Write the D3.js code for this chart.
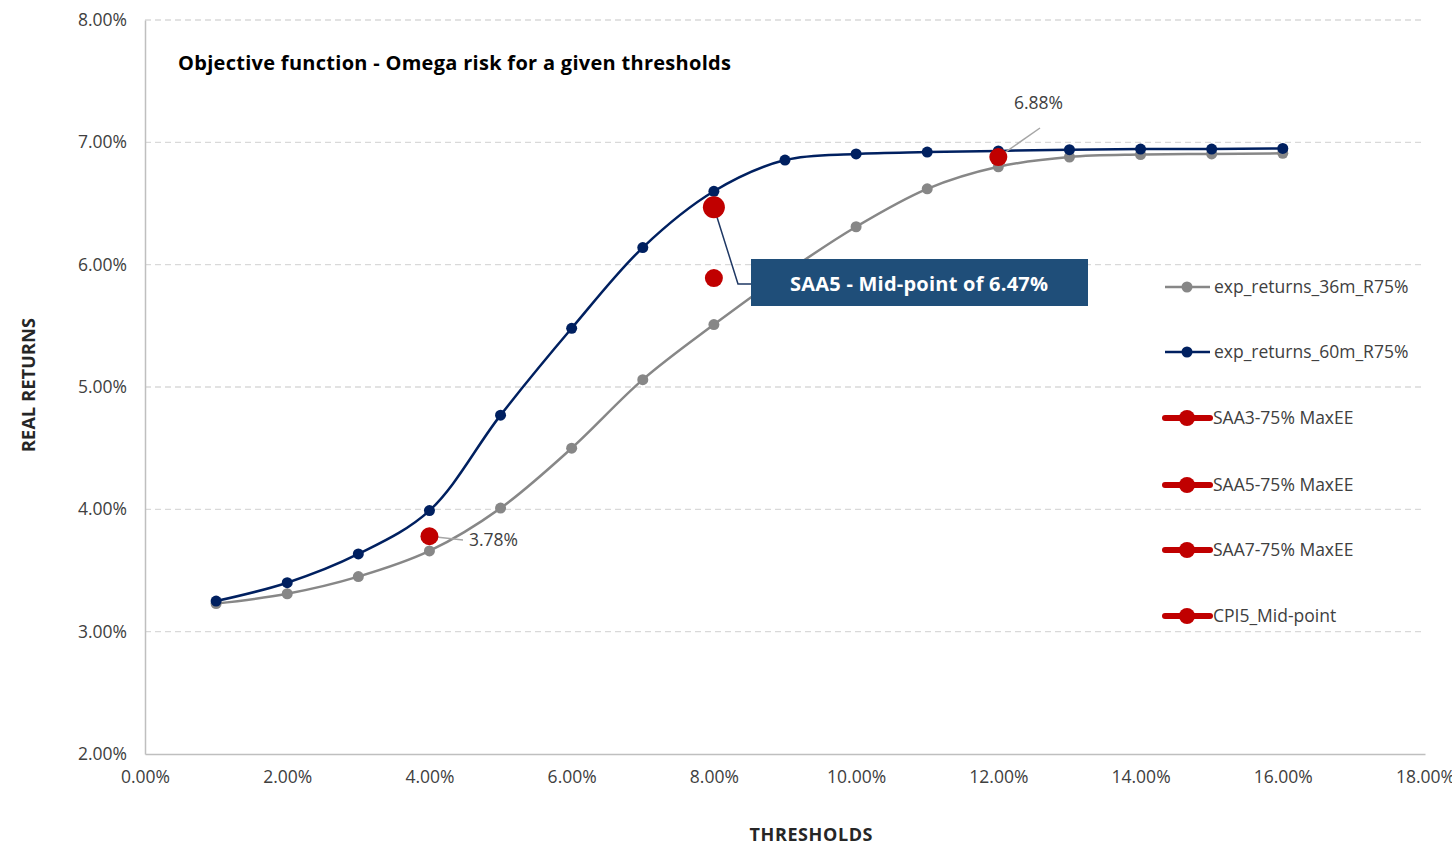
<!DOCTYPE html>
<html>
<head>
	<title>Omega risk chart</title>
	<script src="https://cdn.jsdelivr.net/npm/d3@7/dist/d3.min.js"></script>
	<style>
		body { margin: 0; background: #fff; }
		text { font-family: "Open Sans", "Noto Sans", sans-serif; }
	</style>
</head>
<body>
	<svg id="chart" width="1452" height="846"></svg>

	<script type="text/javascript">
		// thresholds in %
		var thresholds = [1, 2, 3, 4, 5, 6, 7, 8, 9, 10, 11, 12, 13, 14, 15, 16];
		var returns36 = [3.23, 3.31, 3.45, 3.66, 4.01, 4.50, 5.06, 5.51, 5.93, 6.31, 6.62, 6.80, 6.88, 6.90, 6.905, 6.91];
		var returns60 = [3.25, 3.40, 3.635, 3.99, 4.77, 5.48, 6.14, 6.60, 6.855, 6.905, 6.92, 6.93, 6.94, 6.945, 6.945, 6.95];

		// red markers: [threshold, return]
		var saa3 = [[4, 3.78]];
		var saa5 = [[8, 6.47]];
		var saa7 = [[12, 6.88]];
		var cpi5 = [[8, 5.89]];

		var xTicks = [0, 2, 4, 6, 8, 10, 12, 14, 16, 18];
		var yTicks = [2, 3, 4, 5, 6, 7, 8];

		var legendNames = ['exp_returns_36m_R75%', 'exp_returns_60m_R75%', 'SAA3-75% MaxEE',
			'SAA5-75% MaxEE', 'SAA7-75% MaxEE', 'CPI5_Mid-point'];

		var svg = d3.select('#chart');
		var navy = '#002060', grey = '#878787', red = '#c00000';

		var x = d3.scaleLinear().domain([0, 18]).range([145, 1425]);
		var y = d3.scaleLinear().domain([2, 8]).range([754, 20]);
		var pct = v => v.toFixed(2) + '%';

		// gridlines
		svg.append('g')
			.selectAll('line')
			.data(yTicks.slice(1))
			.enter()
			.append('line')
			.attr('x1', x(0)).attr('x2', x(18))
			.attr('y1', d => y(d)).attr('y2', d => y(d))
			.attr('stroke', '#d9d9d9')
			.attr('stroke-width', 1.3)
			.attr('stroke-dasharray', '6,4');

		// axes
		var yAxis = svg.append('g')
			.attr('transform', 'translate(' + x(0) + ',0)')
			.call(d3.axisLeft(y).tickValues(yTicks).tickFormat(pct).tickSize(0).tickPadding(18));
		var xAxis = svg.append('g')
			.attr('transform', 'translate(0,' + y(2) + ')')
			.call(d3.axisBottom(x).tickValues(xTicks).tickFormat(pct).tickSize(0).tickPadding(17));
		[yAxis, xAxis].forEach(a => {
			a.select('.domain').attr('stroke', '#bfbfbf').attr('stroke-width', 1.5);
			a.selectAll('text').attr('font-size', 17.5).attr('fill', '#404040')
				.style('font-family', '"Open Sans", sans-serif');
		});

		// axis titles
		svg.append('text')
			.attr('transform', 'translate(35,385) rotate(-90)')
			.attr('text-anchor', 'middle')
			.attr('font-size', 18).attr('font-weight', 'bold').attr('fill', '#262626')
			.attr('textLength', 134)
			.text('REAL RETURNS');
		svg.append('text')
			.attr('x', 811).attr('y', 841)
			.attr('text-anchor', 'middle')
			.attr('font-size', 18).attr('font-weight', 'bold').attr('fill', '#262626')
			.attr('textLength', 123)
			.text('THRESHOLDS');

		// chart title
		svg.append('text')
			.attr('x', 178).attr('y', 70)
			.attr('font-size', 20).attr('font-weight', 'bold').attr('fill', '#000')
			.attr('textLength', 553)
			.text('Objective function - Omega risk for a given thresholds');

		var line = d3.line()
			.x(d => x(d[0]))
			.y(d => y(d[1]))
			.curve(d3.curveCatmullRom.alpha(0.5));

		function drawSeries(vals, color) {
			var pts = thresholds.map((t, i) => [t, vals[i]]);
			var g = svg.append('g');
			g.append('path')
				.attr('d', line(pts))
				.attr('fill', 'none')
				.attr('stroke', color)
				.attr('stroke-width', 2.5);
			g.selectAll('circle')
				.data(pts)
				.enter()
				.append('circle')
				.attr('cx', d => x(d[0]))
				.attr('cy', d => y(d[1]))
				.attr('r', 5.5)
				.attr('fill', color);
		}
		drawSeries(returns36, grey);
		drawSeries(returns60, navy);

		// leader lines for labels
		var lbl = svg.append('g').attr('stroke', '#a6a6a6').attr('stroke-width', 1.5).attr('fill', 'none');
		lbl.append('line').attr('x1', x(saa3[0][0])).attr('y1', y(saa3[0][1]))
			.attr('x2', 463).attr('y2', 540);
		lbl.append('line').attr('x1', x(saa7[0][0])).attr('y1', y(saa7[0][1]))
			.attr('x2', 1040).attr('y2', 128);

		// SAA5 callout
		svg.append('polyline')
			.attr('points', [[x(saa5[0][0]), y(saa5[0][1])], [738, 284], [751, 284]].map(p => p.join(',')).join(' '))
			.attr('fill', 'none').attr('stroke', '#1f3864').attr('stroke-width', 1.5);

		// red markers
		var reds = [
			{ pts: saa3, r: 9 },
			{ pts: saa5, r: 11 },
			{ pts: saa7, r: 9 },
			{ pts: cpi5, r: 9 }
		];
		reds.forEach(s => {
			svg.append('g').selectAll('circle')
				.data(s.pts)
				.enter()
				.append('circle')
				.attr('cx', d => x(d[0]))
				.attr('cy', d => y(d[1]))
				.attr('r', s.r)
				.attr('fill', red);
		});

		svg.append('text')
			.attr('x', 469).attr('y', 546)
			.attr('font-size', 17.5).attr('fill', '#404040')
			.text(pct(saa3[0][1]));
		svg.append('text')
			.attr('x', 1014).attr('y', 109)
			.attr('font-size', 17.5).attr('fill', '#404040')
			.text(pct(saa7[0][1]));

		svg.append('rect')
			.attr('x', 751).attr('y', 259).attr('width', 337).attr('height', 47)
			.attr('fill', '#1f4e79');
		svg.append('text')
			.attr('x', 919).attr('y', 291)
			.attr('text-anchor', 'middle')
			.attr('font-size', 20).attr('font-weight', 'bold').attr('fill', '#fff')
			.attr('textLength', 258)
			.text('SAA5 - Mid-point of ' + pct(saa5[0][1]));

		// legend
		var legendY = [287, 352, 418, 485, 550, 616];
		var legend = svg.append('g');
		legendNames.forEach((name, i) => {
			var g = legend.append('g').attr('transform', 'translate(0,' + legendY[i] + ')');
			if (i < 2) {
				var c = i === 0 ? grey : navy;
				g.append('line').attr('x1', 1165).attr('x2', 1210)
					.attr('stroke', c).attr('stroke-width', 2.5);
				g.append('circle').attr('cx', 1187).attr('r', 5.5).attr('fill', c);
				g.append('text').attr('x', 1214).attr('y', 6)
					.attr('font-size', 17.5).attr('fill', '#404040').text(name);
			} else {
				g.append('line').attr('x1', 1165).attr('x2', 1210)
					.attr('stroke', red).attr('stroke-width', 6).attr('stroke-linecap', 'round');
				g.append('circle').attr('cx', 1187).attr('r', 8).attr('fill', red);
				g.append('text').attr('x', 1213).attr('y', 6)
					.attr('font-size', 17.5).attr('fill', '#404040').text(name);
			}
		});
	</script>
</body>
</html>
